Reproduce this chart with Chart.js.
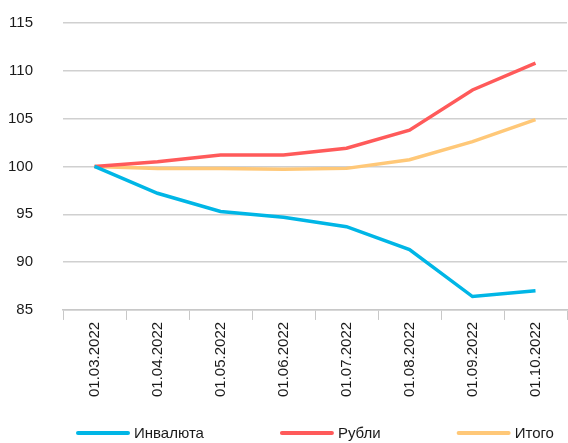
<!DOCTYPE html>
<html>
<head>
<meta charset="utf-8">
<script src="https://cdn.jsdelivr.net/npm/chart.js@4/dist/chart.umd.min.js"></script>
<style>
  html, body { margin: 0; padding: 0; background: #fff; }
  #wrap { width: 568px; height: 443px; }
</style>
</head>
<body>
<div id="wrap"><canvas id="chart"></canvas></div>
<script>
// Даты и значения рядов
const labels = ['01.03.2022', '01.04.2022', '01.05.2022', '01.06.2022', '01.07.2022', '01.08.2022', '01.09.2022', '01.10.2022'];
const invalyuta = [100, 97.2, 95.3, 94.7, 93.7, 91.3, 86.4, 87.0];
const rubli = [100, 100.5, 101.2, 101.2, 101.9, 103.8, 108.0, 110.8];
const itogo = [100, 99.8, 99.8, 99.7, 99.8, 100.7, 102.6, 104.9];
const yTicks = [85, 90, 95, 100, 105, 110, 115];

const fontFamily = "'Liberation Sans', Arial, sans-serif";
const textColor = '#1a1a1a';

function makeSet(label, data, color) {
    return {
        label: label,
        data: data,
        borderColor: color,
        backgroundColor: color,
        borderWidth: 3.5,
        pointRadius: 0,
        tension: 0,
        fill: false
    };
}

// Легенда внизу: линия + подпись, широкие промежутки между элементами
const bottomLegend = {
    id: 'bottomLegend',
    afterDraw(chart) {
        const c = chart.ctx;
        const lineW = 54, gap = 4, itemGap = 76;
        const y = chart.height - 10;
        let x = 76;
        c.save();
        c.font = '15px ' + fontFamily;
        c.textBaseline = 'middle';
        chart.data.datasets.forEach(ds => {
            c.strokeStyle = ds.borderColor;
            c.lineWidth = 4;
            c.lineCap = 'round';
            c.beginPath();
            c.moveTo(x + 2, y);
            c.lineTo(x + lineW - 2, y);
            c.stroke();
            c.fillStyle = textColor;
            c.fillText(ds.label, x + lineW + gap, y + 1);
            x += lineW + gap + c.measureText(ds.label).width + itemGap;
        });
        c.restore();
    }
};

const ctx = document.getElementById('chart').getContext('2d');
new Chart(ctx, {
    type: 'line',
    data: {
        labels: labels,
        datasets: [
            makeSet('Инвалюта', invalyuta, '#00B6E6'),
            makeSet('Рубли', rubli, '#FF5A5A'),
            makeSet('Итого', itogo, '#FFC878')
        ]
    },
    options: {
        responsive: true,
        maintainAspectRatio: false,
        animation: false,
        layout: { padding: { top: 0, right: 1, left: 0, bottom: 44 } },
        plugins: {
            tooltip: { enabled: false },
            legend: { display: false }
        },
        scales: {
            x: {
                offset: true,
                grid: {
                    offset: true,
                    drawOnChartArea: false,
                    drawTicks: true,
                    tickLength: 10,
                    color: '#c8c8c8'
                },
                border: { color: '#c8c8c8', width: 1.5 },
                ticks: {
                    minRotation: 90,
                    maxRotation: 90,
                    padding: 2,
                    color: textColor,
                    font: { family: fontFamily, size: 15 }
                }
            },
            y: {
                min: 85,
                max: 115,
                afterBuildTicks: function (axis) {
                    axis.ticks = yTicks.map(v => ({ value: v }));
                },
                afterFit: function (axis) {
                    axis.width = 63;
                    axis.paddingTop = 23;
                    axis.paddingBottom = 0;
                },
                grid: {
                    drawTicks: false,
                    color: '#d0d0d0',
                    lineWidth: 1.5
                },
                border: { display: false },
                ticks: {
                    autoSkip: false,
                    padding: 30,
                    color: textColor,
                    font: { family: fontFamily, size: 15 }
                }
            }
        }
    },
    plugins: [bottomLegend]
});
</script>
</body>
</html>
